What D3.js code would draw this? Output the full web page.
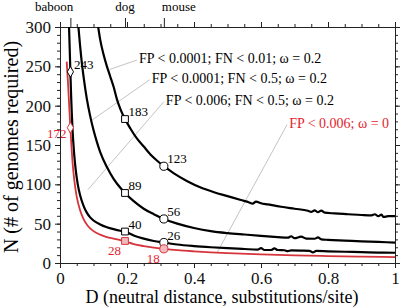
<!DOCTYPE html>
<html>
<head>
<meta charset="utf-8">
<script src="https://cdn.jsdelivr.net/npm/d3@7"></script>
<style>
  body { margin: 0; background: #fff; }
  svg text { font-family: "Liberation Serif", "Times New Roman", serif; }
</style>
</head>
<body>
<div id="chart"></div>
<script>
// distance values (D) and genomes required (N)
const strictD = [0.114, 0.12, 0.13, 0.14, 0.15, 0.16, 0.17, 0.18, 0.194, 0.21, 0.23, 0.25, 0.27, 0.29, 0.31,
  0.34, 0.38, 0.42, 0.46, 0.5, 0.54, 0.565, 0.575, 0.585, 0.6, 0.62, 0.66, 0.7, 0.74, 0.75, 0.76, 0.77, 0.78,
  0.79, 0.82, 0.86, 0.9, 0.93, 0.94, 0.95, 0.96, 0.965, 0.98, 1.0];
const strictN = [300, 284, 265, 250, 237, 224, 208, 196, 183, 171, 158, 148, 138, 130, 123,
  114, 104, 96, 90, 85, 80, 77, 75.5, 78, 76, 74.5, 71.5, 69, 66.5, 65, 67, 64.5, 66.5,
  64, 63, 62, 61, 60.5, 62, 59.5, 61.5, 58.5, 59.5, 59.5];

const fnD = [0.055, 0.06, 0.065, 0.07, 0.08, 0.09, 0.1, 0.11, 0.12, 0.14, 0.16, 0.18, 0.194, 0.22, 0.25, 0.28, 0.31,
  0.35, 0.4, 0.45, 0.5, 0.55, 0.6, 0.65, 0.68, 0.69, 0.7, 0.72, 0.735, 0.76, 0.77, 0.78, 0.8, 0.85, 0.9, 0.95, 1.0];
const fnN = [300, 276, 255, 238, 209, 187, 169, 154, 141, 122, 107, 95.6, 89, 78.6, 69, 62, 56,
  50, 44.5, 40.5, 38, 36.2, 34.5, 33, 32.2, 34, 31.5, 33.5, 31, 30.8, 32.5, 30, 29.4, 28.5, 27.6, 26.8, 26];

const looseD = [0.027, 0.029, 0.031, 0.033, 0.035, 0.038, 0.042, 0.047, 0.053, 0.06, 0.07, 0.08, 0.09, 0.1, 0.12,
  0.14, 0.16, 0.18, 0.194, 0.22, 0.25, 0.28, 0.31, 0.35, 0.4, 0.45, 0.5, 0.55, 0.59, 0.6, 0.61, 0.63, 0.64, 0.65,
  0.67, 0.68, 0.69, 0.72, 0.745, 0.755, 0.765, 0.8, 0.85, 0.9, 0.95, 1.0];
const looseN = [300, 272, 243, 215, 192, 165, 140, 118, 100, 86, 73, 64, 58, 54, 49,
  45.5, 43, 41, 40, 35, 31, 28, 26, 23.5, 21.5, 20, 18.8, 17.8, 17, 19, 16.5, 16.5, 18.5, 16.5,
  16.2, 15, 16, 15.8, 15.5, 13.5, 15.3, 14.8, 14.3, 13.8, 13.3, 13];

const neutralD = [0.02, 0.024, 0.028, 0.031, 0.034, 0.038, 0.043, 0.05, 0.06, 0.07, 0.08, 0.09, 0.1, 0.12, 0.14,
  0.16, 0.18, 0.194, 0.22, 0.25, 0.28, 0.31, 0.35, 0.4, 0.45, 0.5, 0.6, 0.7, 0.8, 0.9, 1.0];
const neutralN = [256, 228, 195, 172, 150, 125, 104, 84, 67, 56, 49, 44, 40.5, 36, 33,
  31, 29, 27.5, 24, 21.5, 19.5, 18, 16.3, 14.8, 13.6, 12.6, 11, 9.8, 8.8, 8, 7.5];

const seriesNames = ["FP < 0.0001; FN < 0.01; ω = 0.2", "FP < 0.0001; FN < 0.5; ω = 0.2",
  "FP < 0.006; FN < 0.5; ω = 0.2", "FP < 0.006; ω = 0"];

// species marked on the top axis
const species = ["baboon", "dog", "mouse"];
const speciesD = [0.031, 0.194, 0.31];
const markerShapes = ["diamond", "square", "circle"];

// numbers printed next to the markers (null = no marker)
const strictMarks = [null, 183, 123];
const fnMarks = [null, 89, 56];
const looseMarks = [243, 40, 26];
const neutralMarks = [172, 28, 18];

// annotation leaders: [D, N] on the curve, [D, N] at the label
const leaderFrom = [[0.148, 246], [0.09, 180], [0.083, 93], [0.47, 14]];
const leaderTo = [[0.23, 258], [0.268, 233], [0.31, 205], [0.678, 176]];

const xTicks = [0, 0.2, 0.4, 0.6, 0.8, 1];
const yTicks = [0, 50, 100, 150, 200, 250, 300];

const W = 404, H = 308;
const margin = { top: 27, right: 9, bottom: 45, left: 60 };
const black = "#000", red = "#d6343c", redText = "#e3232e", redFill = "#f3b9bd";

const svg = d3.select("#chart").append("svg")
  .attr("width", W).attr("height", H);

const x = d3.scaleLinear().domain([0, 1]).range([margin.left, W - margin.right]);
const y = d3.scaleLinear().domain([0, 300]).range([H - margin.bottom, margin.top]);

// axes: majors + minors, all ticks outward
function styleAxis(g) {
  g.select(".domain").attr("stroke", "#222").attr("stroke-width", 1);
  g.selectAll(".tick line").attr("stroke", "#222");
  g.selectAll(".tick text").attr("fill", "#111").style("font-size", "17px");
}
const minorX = d3.range(0, 1.0001, 0.05);
const minorY = d3.range(0, 301, 10);

svg.append("g").attr("transform", `translate(0,${y(0)})`)
  .call(d3.axisBottom(x).tickValues(minorX).tickSize(3).tickFormat(""))
  .call(styleAxis);
svg.append("g").attr("transform", `translate(0,${y(0)})`)
  .call(d3.axisBottom(x).tickValues(xTicks).tickSize(5).tickPadding(4).tickFormat(d3.format("")))
  .call(styleAxis);
svg.append("g").attr("transform", `translate(${x(0)},0)`)
  .call(d3.axisLeft(y).tickValues(minorY).tickSize(3).tickFormat(""))
  .call(styleAxis);
svg.append("g").attr("transform", `translate(${x(0)},0)`)
  .call(d3.axisLeft(y).tickValues(yTicks).tickSize(5).tickPadding(4))
  .call(styleAxis);
svg.append("g").attr("transform", `translate(${x(1)},0)`)
  .call(d3.axisRight(y).tickValues(minorY).tickSize(3).tickFormat(""))
  .call(styleAxis);
svg.append("g").attr("transform", `translate(${x(1)},0)`)
  .call(d3.axisRight(y).tickValues(yTicks).tickSize(5).tickFormat(""))
  .call(styleAxis);
svg.append("g").attr("transform", `translate(0,${y(300)})`)
  .call(d3.axisTop(x).tickValues(minorX).tickSize(3).tickFormat(""))
  .call(styleAxis);
svg.append("g").attr("transform", `translate(0,${y(300)})`)
  .call(d3.axisTop(x).tickValues(xTicks).tickSize(5).tickFormat(""))
  .call(styleAxis);

// species ticks on top, labels placed beside them
svg.append("g").attr("transform", `translate(0,${y(300)})`)
  .call(d3.axisTop(x).tickValues(speciesD).tickSize(9).tickFormat(""))
  .call(styleAxis)
  .select(".domain").remove();
const speciesAnchor = ["end", "middle", "start"];
const speciesShift = [3, 0, -2];
svg.append("g").selectAll("text")
  .data(species)
  .join("text")
  .attr("x", (d, i) => x(speciesD[i]) + speciesShift[i])
  .attr("y", y(300) - 16)
  .attr("text-anchor", (d, i) => speciesAnchor[i])
  .style("font-size", "13px")
  .text(d => d);

// axis titles
svg.append("text")
  .attr("x", 222).attr("y", H - 5)
  .attr("text-anchor", "middle").style("font-size", "18px")
  .text("D (neutral distance, substitutions/site)");
svg.append("text")
  .attr("transform", `translate(18,147) rotate(-90)`)
  .attr("text-anchor", "middle").style("font-size", "20px")
  .text("N (# of genomes required)");

// leader lines
svg.append("g").selectAll("line")
  .data(leaderFrom)
  .join("line")
  .attr("x1", d => x(d[0])).attr("y1", d => y(d[1]))
  .attr("x2", (d, i) => x(leaderTo[i][0])).attr("y2", (d, i) => y(leaderTo[i][1]))
  .attr("stroke", "#b4b4b4").attr("stroke-width", 0.8);

// series labels
svg.append("g").selectAll("text")
  .data(seriesNames)
  .join("text")
  .attr("x", (d, i) => x(leaderTo[i][0]) + 2)
  .attr("y", (d, i) => y(leaderTo[i][1]) + 3)
  .attr("fill", (d, i) => i === 3 ? redText : black)
  .style("font-size", "14px")
  .text(d => d);

// curves
svg.append("clipPath").attr("id", "plot-clip")
  .append("rect")
  .attr("x", x(0)).attr("y", y(300))
  .attr("width", x(1) - x(0)).attr("height", y(0) - y(300));

const line = d3.line()
  .x(d => x(d[0]))
  .y(d => y(d[1]))
  .curve(d3.curveMonotoneX);

const curves = [
  { d: strictD, n: strictN, marks: strictMarks, color: black },
  { d: fnD, n: fnN, marks: fnMarks, color: black },
  { d: looseD, n: looseN, marks: looseMarks, color: black },
  { d: neutralD, n: neutralN, marks: neutralMarks, color: red }
];

const plot = svg.append("g").attr("clip-path", "url(#plot-clip)");
plot.selectAll("path")
  .data(curves)
  .join("path")
  .attr("fill", "none")
  .attr("stroke", c => c.color)
  .attr("stroke-width", c => c.color === red ? 1.8 : 2.2)
  .attr("stroke-linejoin", "round")
  .attr("d", c => line(c.d.map((v, i) => [v, c.n[i]])));

// markers and their numbers
const markers = [];
curves.forEach((c, ci) => {
  c.marks.forEach((m, si) => {
    if (m !== null) markers.push({ D: speciesD[si], N: m, shape: markerShapes[si], isRed: ci === 3 });
  });
});

const symbolType = { diamond: d3.symbolDiamond, square: d3.symbolSquare, circle: d3.symbolCircle };
const symbolSize = { diamond: 34, square: 46, circle: 52 };

svg.append("g").selectAll("path")
  .data(markers)
  .join("path")
  .attr("transform", d => `translate(${x(d.D)},${y(d.N)})`)
  .attr("d", d => d3.symbol(symbolType[d.shape], symbolSize[d.shape])())
  .attr("fill", d => d.isRed && d.shape !== "diamond" ? redFill : "#fff")
  .attr("stroke", d => d.isRed ? red : black)
  .attr("stroke-width", 1);

svg.append("g").selectAll("text")
  .data(markers)
  .join("text")
  .attr("x", d => x(d.D) + (d.isRed ? -4 : 3.5))
  .attr("y", d => y(d.N) + (d.isRed ? (d.shape === "diamond" ? 10 : 14) : -3))
  .attr("text-anchor", d => d.isRed ? "end" : "start")
  .attr("fill", d => d.isRed ? redText : black)
  .style("font-size", "13px")
  .text(d => d.N);
</script>
</body>
</html>
